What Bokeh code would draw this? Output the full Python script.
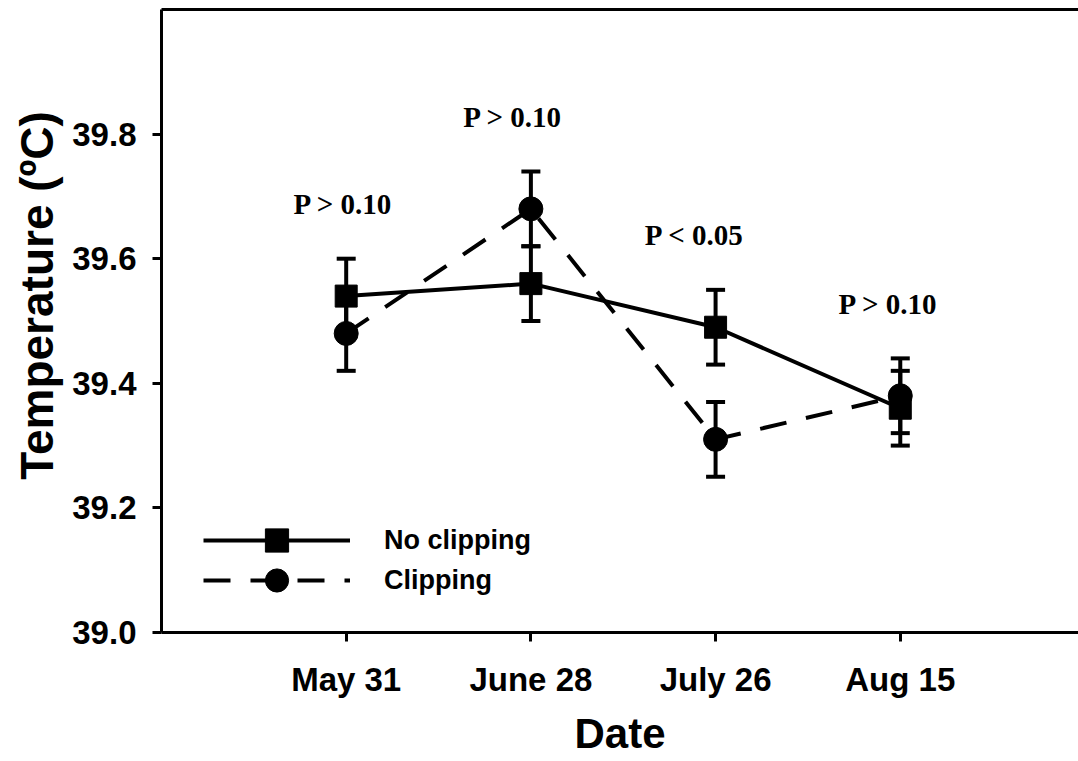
from bokeh.embed import file_html
from bokeh.models import (ColumnDataSource, FixedTicker, Label, Legend,
                          LegendItem, LinearAxis, Range1d, TeeHead, Whisker)
from bokeh.plotting import figure
from bokeh.resources import INLINE

# ---- data -------------------------------------------------------------
dates = ["May 31", "June 28", "July 26", "Aug 15"]
x_pos = [1, 2, 3, 4]

no_clip_mean = [39.54, 39.56, 39.49, 39.36]
no_clip_se = [0.06, 0.06, 0.06, 0.06]

clip_mean = [39.48, 39.68, 39.31, 39.38]
clip_se = [0.06, 0.06, 0.06, 0.06]

p_labels = ["P > 0.10", "P > 0.10", "P < 0.05", "P > 0.10"]
y_ticks = [39.0, 39.2, 39.4, 39.6, 39.8]

# ---- figure -----------------------------------------------------------
SANS = "Liberation Sans"
SERIF = "Liberation Serif"
NBSP = "\u00a0"

p = figure(
    width=1078, height=761,
    x_range=Range1d(0, 4.965), y_range=Range1d(39.0, 40.0),
    output_backend="svg", toolbar_location=None,
    min_border_left=161, min_border_right=0,
    min_border_top=9, min_border_bottom=129,
)
p.grid.visible = False
p.outline_line_color = None
p.background_fill_color = "white"
p.border_fill_color = "white"

# x axis
xa = p.xaxis[0]
xa.ticker = FixedTicker(ticks=x_pos)
xa.major_label_overrides = {x: d for x, d in zip(x_pos, dates)}
xa.axis_label = "Date"
xa.axis_label_text_font_size = "42px"
xa.axis_label_standoff = 9
xa.major_label_standoff = 19

# y axis
ya = p.yaxis[0]
ya.ticker = FixedTicker(ticks=y_ticks)
ya.major_label_overrides = {t: f"{t:.1f}" for t in y_ticks}
ya.major_label_standoff = 16
# leading no-break spaces lift the rotated title a little above centre
ya.axis_label = NBSP * 4 + "Temperature (ºC)"
ya.axis_label_text_font_size = "46px"
ya.axis_label_standoff = 6

for ax in (xa, ya):
    ax.axis_line_width = 3
    ax.major_tick_line_width = 3
    ax.major_tick_out = 9
    ax.major_tick_in = 0
    ax.minor_tick_line_color = None
    ax.major_label_text_font = SANS
    ax.major_label_text_font_style = "bold"
    ax.major_label_text_font_size = "33px"
    ax.axis_label_text_font = SANS
    ax.axis_label_text_font_style = "bold"
    ax.axis_label_text_color = "black"
    ax.major_label_text_color = "black"

# top border of the plot box
top = LinearAxis(
    ticker=FixedTicker(ticks=[]),
    major_label_text_font_size="0px",
    major_tick_out=0, major_tick_in=0,
    minor_tick_out=0, minor_tick_in=0,
    axis_line_width=3,
)
p.add_layout(top, "above")

# ---- series -----------------------------------------------------------
nc_src = ColumnDataSource(dict(
    x=x_pos, y=no_clip_mean,
    upper=[m + s for m, s in zip(no_clip_mean, no_clip_se)],
    lower=[m - s for m, s in zip(no_clip_mean, no_clip_se)],
))
cl_src = ColumnDataSource(dict(
    x=x_pos, y=clip_mean,
    upper=[m + s for m, s in zip(clip_mean, clip_se)],
    lower=[m - s for m, s in zip(clip_mean, clip_se)],
))

for src in (nc_src, cl_src):
    p.add_layout(Whisker(
        source=src, base="x", upper="upper", lower="lower",
        line_width=4, line_color="black",
        upper_head=TeeHead(size=19, line_width=4, line_color="black"),
        lower_head=TeeHead(size=19, line_width=4, line_color="black"),
    ))

nc_line = p.line("x", "y", source=nc_src, line_width=4, line_color="black")
cl_line = p.line("x", "y", source=cl_src, line_width=4, line_color="black",
                 line_dash="27 20")
nc_pts = p.scatter("x", "y", source=nc_src, marker="square", size=22,
                   fill_color="black", line_color="black")
cl_pts = p.scatter("x", "y", source=cl_src, marker="circle", size=24,
                   fill_color="black", line_color="black")

# ---- significance labels ---------------------------------------------
label_dx = [-3, -18, -21, -12]
for i, txt in enumerate(p_labels):
    top_of_bars = max(no_clip_mean[i] + no_clip_se[i], clip_mean[i] + clip_se[i])
    p.add_layout(Label(
        x=x_pos[i], y=top_of_bars + 0.088, x_offset=label_dx[i],
        text=txt, text_align="center", text_baseline="alphabetic",
        text_font=SERIF, text_font_style="bold", text_font_size="29px",
        text_color="black",
    ))

# ---- legend ----------------------------------------------------------
# one single-row legend per series: tall glyph boxes give full-size legend
# markers while the two rows still sit close together
legend_rows = [
    ("No clipping", [nc_line, nc_pts], 63),
    ("Clipping", [cl_line, cl_pts], 23),
]
for label, renderers, bottom in legend_rows:
    p.add_layout(Legend(
        items=[LegendItem(label=label, renderers=renderers)],
        location=(42, bottom),
        border_line_color=None, background_fill_alpha=0,
        padding=0, margin=0, spacing=0,
        glyph_width=147, glyph_height=58, label_height=58,
        label_standoff=34,
        label_text_font=SANS, label_text_font_style="bold",
        label_text_font_size="27px", label_text_color="black",
    ))

open("out.html", "w").write(file_html(p, INLINE))
